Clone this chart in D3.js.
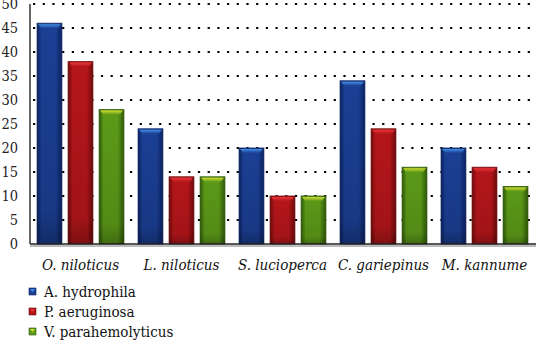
<!DOCTYPE html>
<html>
<head>
<meta charset="utf-8">
<script src="https://cdn.jsdelivr.net/npm/d3@7"></script>
<style>
  body { margin: 0; background: #fff; }
</style>
</head>
<body>
<div id="chart"></div>
<script>
// values
const species = ["O. niloticus", "L. niloticus", "S. lucioperca", "C. gariepinus", "M. kannume"];
const bacteria = ["A. hydrophila", "P. aeruginosa", "V. parahemolyticus"];
const hydrophila = [46, 24, 20, 34, 20];
const aeruginosa = [38, 14, 10, 24, 16];
const parahemolyticus = [28, 14, 10, 16, 12];
const yTicks = [0, 5, 10, 15, 20, 25, 30, 35, 40, 45, 50];

const seriesVals = [hydrophila, aeruginosa, parahemolyticus];
const palette = [
  { mid: "#1b3f94", edge: "#0a2260", cap: "#3f8fe6" },
  { mid: "#b5161a", edge: "#6e0a0c", cap: "#e8353a" },
  { mid: "#5c9a18", edge: "#2f5a08", cap: "#d2dc32" }
];

let width = 537, height = 346;
let margin = { left: 30, right: 2, top: 4, bottom: 102 };

let svg = d3.select("#chart").append("svg")
  .attr("width", width)
  .attr("height", height)
  .attr("font-family", "'DejaVu Serif Condensed', 'DejaVu Serif'");

let defs = svg.append("defs");
palette.forEach((c, i) => {
  let g = defs.append("linearGradient").attr("id", "bar" + i)
    .attr("x1", "0").attr("x2", "1").attr("y1", "0").attr("y2", "0");
  g.append("stop").attr("offset", "0%").attr("stop-color", c.edge);
  g.append("stop").attr("offset", "18%").attr("stop-color", c.mid);
  g.append("stop").attr("offset", "75%").attr("stop-color", c.mid);
  g.append("stop").attr("offset", "100%").attr("stop-color", c.edge);
  let v = defs.append("linearGradient").attr("id", "shade" + i)
    .attr("x1", "0").attr("x2", "0").attr("y1", "0").attr("y2", "1");
  v.append("stop").attr("offset", "0%").attr("stop-color", "#000").attr("stop-opacity", 0);
  v.append("stop").attr("offset", "85%").attr("stop-color", "#000").attr("stop-opacity", 0.1);
  v.append("stop").attr("offset", "100%").attr("stop-color", "#000").attr("stop-opacity", 0.3);
  let cap = defs.append("linearGradient").attr("id", "cap" + i)
    .attr("x1", "0").attr("x2", "0").attr("y1", "0").attr("y2", "1");
  cap.append("stop").attr("offset", "0%").attr("stop-color", c.cap);
  cap.append("stop").attr("offset", "100%").attr("stop-color", c.mid);
});

let x = d3.scaleBand().domain(species)
  .range([margin.left, width - margin.right])
  .paddingInner(0.14).paddingOuter(0.07);
let xs = d3.scaleBand().domain(bacteria).range([0, x.bandwidth()]).paddingInner(0.2);
let y = d3.scaleLinear().domain([0, 50]).range([height - margin.bottom, margin.top]);

// dotted grid
svg.append("g").selectAll("line")
  .data(yTicks.filter(d => d > 0))
  .join("line")
  .attr("x1", margin.left + 3).attr("x2", width - 1)
  .attr("y1", d => y(d)).attr("y2", d => y(d))
  .attr("stroke", "#000")
  .attr("stroke-width", 2.2)
  .attr("stroke-dasharray", "2.2,7.5");

// bars
let groups = svg.append("g").selectAll("g")
  .data(species)
  .join("g")
  .attr("transform", d => `translate(${x(d)},0)`);

groups.each(function (sp, si) {
  let g = d3.select(this);
  bacteria.forEach((b, bi) => {
    let v = seriesVals[bi][si];
    let bx = xs(b), bw = xs.bandwidth();
    let top = y(v), bottom = y(0);
    g.append("rect")
      .attr("x", bx).attr("y", top)
      .attr("width", bw).attr("height", bottom - top)
      .attr("fill", `url(#bar${bi})`)
      .attr("stroke", palette[bi].edge).attr("stroke-width", 0.8);
    g.append("rect")
      .attr("x", bx).attr("y", top)
      .attr("width", bw).attr("height", bottom - top)
      .attr("fill", `url(#shade${bi})`);
    // bevel cap
    g.append("path")
      .attr("d", `M${bx + 1},${top + 1} L${bx + bw - 1},${top + 1} L${bx + bw - 4},${top + 5} L${bx + 4},${top + 5} Z`)
      .attr("fill", `url(#cap${bi})`);
  });
});

// axes
svg.append("line")
  .attr("x1", margin.left).attr("x2", margin.left)
  .attr("y1", margin.top).attr("y2", y(0))
  .attr("stroke", "#333").attr("stroke-width", 1.5);
svg.append("line")
  .attr("x1", margin.left).attr("x2", width - 1)
  .attr("y1", y(0) + 2).attr("y2", y(0) + 2)
  .attr("stroke", "#bbb").attr("stroke-width", 2);
svg.append("line")
  .attr("x1", margin.left).attr("x2", width - 1)
  .attr("y1", y(0)).attr("y2", y(0))
  .attr("stroke", "#222").attr("stroke-width", 1.5);

svg.append("g").selectAll("text")
  .data(yTicks)
  .join("text")
  .attr("x", 18).attr("y", d => y(d) + 5)
  .attr("text-anchor", "end")
  .attr("font-size", 14.5)
  .attr("fill", "#222")
  .text(d => d);

svg.append("g").selectAll("text")
  .data(species)
  .join("text")
  .attr("x", d => x(d) + x.bandwidth() / 2)
  .attr("y", 270)
  .attr("text-anchor", "middle")
  .attr("font-size", 15)
  .attr("font-style", "italic")
  .attr("fill", "#111")
  .text(d => d);

// legend
let legend = svg.append("g").selectAll("g")
  .data(bacteria)
  .join("g")
  .attr("transform", (d, i) => `translate(29,${292 + i * 20})`);
legend.append("rect")
  .attr("width", 7).attr("height", 7).attr("y", -4)
  .attr("fill", (d, i) => palette[i].mid)
  .attr("stroke", (d, i) => palette[i].edge).attr("stroke-width", 0.6);
legend.append("path")
  .attr("d", "M1,-3 L6,-3 L3.5,0 Z")
  .attr("fill", (d, i) => palette[i].cap);
legend.append("text")
  .attr("x", 15).attr("y", 5)
  .attr("font-size", 15)
  .attr("fill", "#111")
  .text(d => d);
</script>
</body>
</html>
